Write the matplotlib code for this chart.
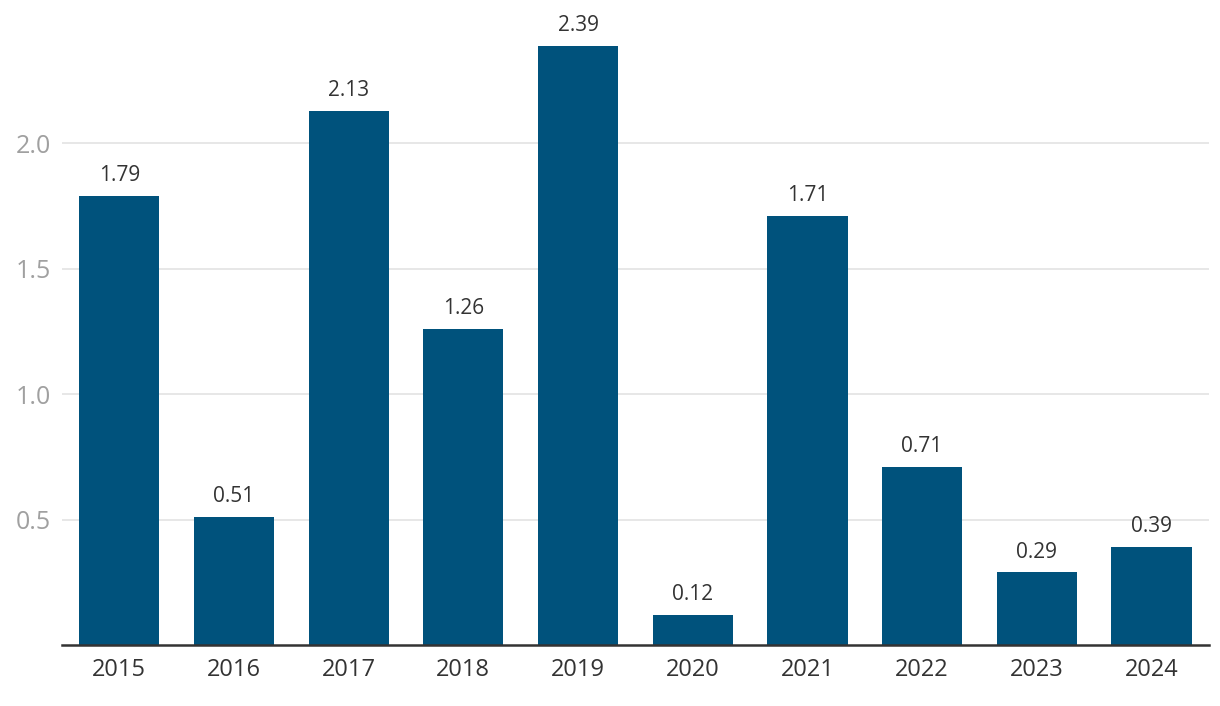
import matplotlib.pyplot as plt
import numpy as np

plt.rcParams['font.family'] = ['Open Sans', 'DejaVu Sans']

years = ["2015", "2016", "2017", "2018", "2019", "2020", "2021", "2022", "2023", "2024"]
values = [1.79, 0.51, 2.13, 1.26, 2.39, 0.12, 1.71, 0.71, 0.29, 0.39]
yticks = [0.5, 1.0, 1.5, 2.0]

fig = plt.figure(figsize=(12.2, 7.06), dpi=100)
ax = fig.add_axes([0.0508, 0.0864, 0.940, 0.888])

x = np.arange(len(years))
bars = ax.bar(x, values, width=0.70, color="#00527c", zorder=3)

for xi, v in zip(x, values):
    ax.annotate(f"{v:.2f}", (xi, v), xytext=(0, 7), textcoords="offset points",
                ha="center", va="bottom", fontsize=15, color="#333333")

ax.set_xlim(-0.5, len(years) - 0.5)
ax.set_ylim(0, 2.5)
ax.set_xticks(x)
ax.set_xticklabels(years, fontsize=17, color="#333333")
ax.set_yticks(yticks)
ax.set_yticklabels([f"{t:.1f}" for t in yticks], fontsize=18, color="#a0a0a0")
ax.tick_params(axis="both", length=0)
ax.tick_params(axis="x", pad=9)
ax.tick_params(axis="y", pad=8)

ax.grid(axis="y", color="#e3e3e3", linewidth=1.2, zorder=0)
for side in ["top", "right", "left"]:
    ax.spines[side].set_visible(False)
ax.spines["bottom"].set_color("#333333")
ax.spines["bottom"].set_linewidth(1.8)
ax.spines["bottom"].set_zorder(4)

fig.savefig("out.png", dpi=100)
